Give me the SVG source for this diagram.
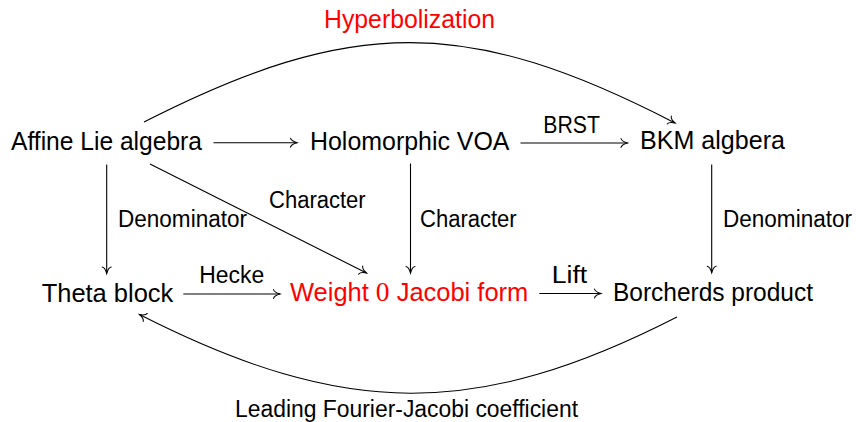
<svg xmlns="http://www.w3.org/2000/svg" width="856" height="422" viewBox="0 0 856 422">
<style>
text{font-family:"Liberation Sans",Arial,sans-serif;fill:#000}
.n{font-size:25px}
.l{font-size:23px}
.red{fill:#ff0000}
.m{font-family:"Liberation Serif","Times New Roman",serif;font-size:27px}
.e{fill:none;stroke:#000;stroke-width:1.1}
</style>
<defs>
<marker id="to" markerUnits="userSpaceOnUse" viewBox="-8 -6 9 12" refX="0" refY="0" markerWidth="9" markerHeight="12" orient="auto" overflow="visible">
<path d="M -6.5,-4.5 C -6,-2.4 -2.2,-0.6 0,0 C -2.2,0.6 -6,2.4 -6.5,4.5" fill="none" stroke="#000" stroke-width="1.05" stroke-linecap="round"/>
</marker>
</defs>
<g id="connectors">
<path class="e" marker-end="url(#to)" d="M 213.5,142.7 L 297,142.7"/>
<path class="e" marker-end="url(#to)" d="M 520.5,143 L 627.5,143"/>
<path class="e" marker-end="url(#to)" d="M 106.7,164.5 L 106.7,273.5"/>
<path class="e" marker-end="url(#to)" d="M 410.5,163.5 L 410.5,273"/>
<path class="e" marker-end="url(#to)" d="M 711.7,164.5 L 711.7,272.7"/>
<path class="e" marker-end="url(#to)" d="M 150,164 L 366.5,273"/>
<path class="e" marker-end="url(#to)" d="M 183.3,294 L 280,294"/>
<path class="e" marker-end="url(#to)" d="M 539.3,293.5 L 601,293.5"/>
<path class="e" marker-end="url(#to)" d="M 144,122 C 352,16 468,16 675,123"/>
<path class="e" marker-end="url(#to)" d="M 677,317 C 477,419 345,419 139.5,314.5"/>
<text class="l" x="543.3" y="132.7" textLength="56.7" lengthAdjust="spacingAndGlyphs">BRST</text>
<text class="l" x="118" y="227" textLength="129" lengthAdjust="spacingAndGlyphs">Denominator</text>
<text class="l" x="723" y="227.3" textLength="129" lengthAdjust="spacingAndGlyphs">Denominator</text>
<text class="l" x="420" y="226.7" textLength="96.7" lengthAdjust="spacingAndGlyphs">Character</text>
<text class="l" x="269" y="208.3" textLength="96.7" lengthAdjust="spacingAndGlyphs">Character</text>
<text class="l" x="199.3" y="283.3" textLength="65" lengthAdjust="spacingAndGlyphs">Hecke</text>
<text class="l" x="551.7" y="283.3" textLength="35.6" lengthAdjust="spacingAndGlyphs">Lift</text>
<text class="n red" x="324" y="28.3" textLength="171" lengthAdjust="spacingAndGlyphs">Hyperbolization</text>
<text class="l" x="235" y="416.5" textLength="343" lengthAdjust="spacingAndGlyphs">Leading Fourier-Jacobi coefficient</text>
</g>
<g id="affine"><text class="n" x="11" y="149.5" textLength="191" lengthAdjust="spacingAndGlyphs">Affine Lie algebra</text></g>
<g id="voa"><text class="n" x="310" y="149.5" textLength="199.5" lengthAdjust="spacingAndGlyphs">Holomorphic VOA</text></g>
<g id="bkm"><text class="n" x="640" y="149" textLength="145" lengthAdjust="spacingAndGlyphs">BKM algbera</text></g>
<g id="theta"><text class="n" x="41.7" y="301.5" textLength="131.6" lengthAdjust="spacingAndGlyphs">Theta block</text></g>
<g id="jacobi"><text class="n red" x="290" y="301" textLength="238.3" lengthAdjust="spacingAndGlyphs">Weight <tspan class="m">0</tspan> Jacobi form</text></g>
<g id="borcherds"><text class="n" x="613" y="301" textLength="200" lengthAdjust="spacingAndGlyphs">Borcherds product</text></g>
</svg>
